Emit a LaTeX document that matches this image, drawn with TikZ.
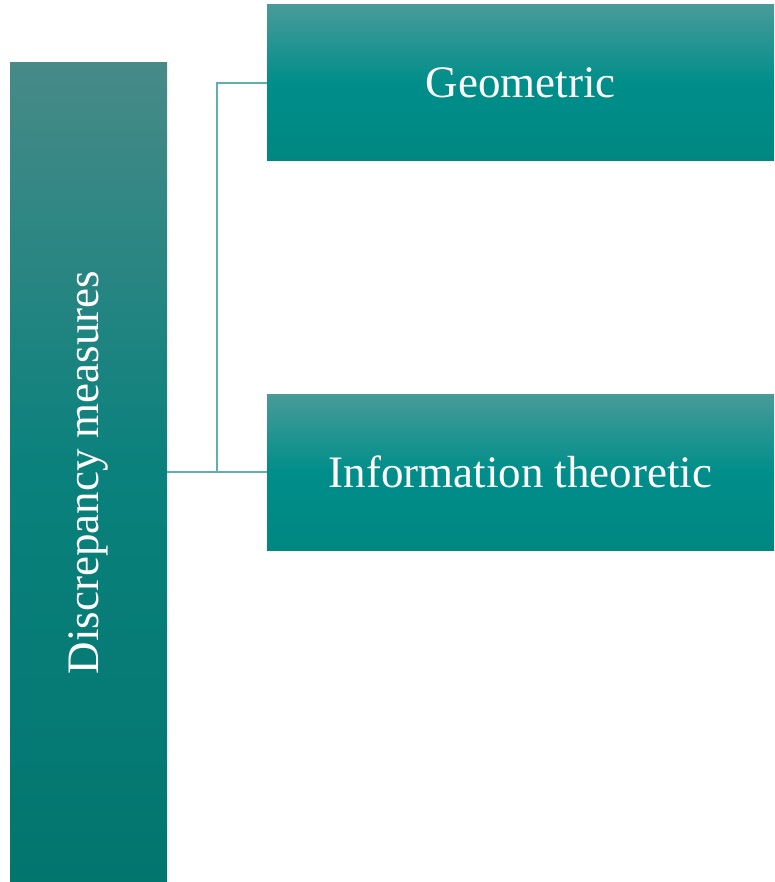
\documentclass[tikz,border=0pt]{standalone}
\usepackage{fontspec}
\setmainfont{Liberation Serif}
\definecolor{barTop}{HTML}{478A88}
\definecolor{barMid}{HTML}{0A817C}
\definecolor{barBot}{HTML}{03756F}
\definecolor{boxTop}{HTML}{489B99}
\definecolor{boxMid}{HTML}{008E8A}
\definecolor{boxBot}{HTML}{008782}
\definecolor{linkCol}{HTML}{62B0AD}
\tikzset{
  % middle color has to come last, top/bottom color reset it
  rootbar/.style={draw=none, top color=barTop, bottom color=barBot, middle color=barMid,
    minimum width=157pt, minimum height=819pt, inner sep=0pt,
    text=white, font=\fontsize{45}{54}\selectfont},
  leafbox/.style={draw=none, top color=boxTop, bottom color=boxBot, middle color=boxMid,
    minimum width=507pt, minimum height=156pt, inner sep=0pt,
    text=white, font=\fontsize{45}{54}\selectfont},
  link/.style={draw=linkCol, line width=2.5pt}
}
\begin{document}
\begin{tikzpicture}[x=1pt,y=-1pt]
  \useasboundingbox (0,0) rectangle (774,882);
  \node[rootbar] (bar) at (88.5,472.5) {\rotatebox{90}{Discrepancy measures}};
  \node[leafbox] (geo) at (520.5,83) {Geometric};
  \node[leafbox] (info) at (520.5,472) {Information theoretic};
  \coordinate (j) at (217,472);
  \draw[link] (bar.east |- info.west) -- (info.west);
  \draw[link] (geo.west) -| (j);
\end{tikzpicture}
\end{document}
